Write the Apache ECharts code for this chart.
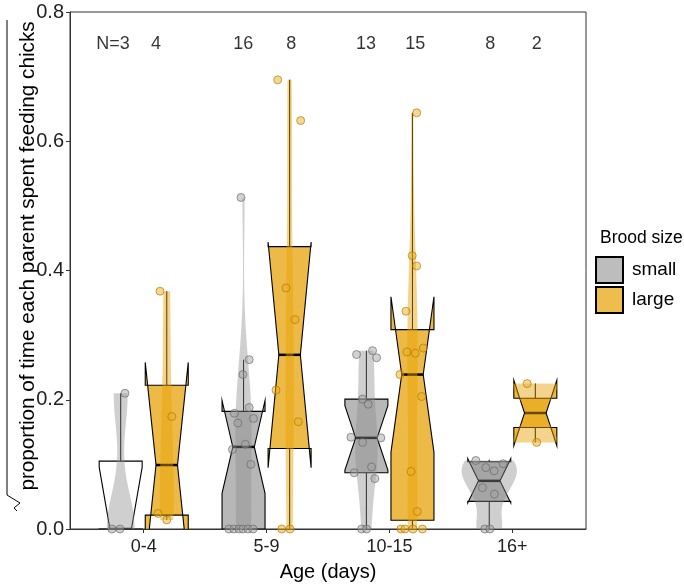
<!DOCTYPE html>
<html>
<head>
<meta charset="utf-8">
<script src="https://cdn.jsdelivr.net/npm/echarts@6/dist/echarts.min.js"></script>
<style>
  html, body { margin: 0; padding: 0; background: #fff; }
  #chart { width: 684px; height: 587px; }
</style>
</head>
<body>
<div id="chart"></div>
<script>
var ages = ['0-4', '5-9', '10-15', '16+'];

// sqrt(proportion) per parent, one list per age class
var smallValues = [
  [0.21, 0, 0],
  [0.513, 0.262, 0.239, 0.188, 0.179, 0.171, 0.164, 0.131, 0.123, 0.100, 0, 0, 0, 0, 0, 0],
  [0.276, 0.270, 0.265, 0.201, 0.193, 0.142, 0.141, 0.134, 0.096, 0.087, 0.078, 0, 0],
  [0.106, 0.101, 0.095, 0.090, 0.064, 0.054, 0, 0]
];
var largeValues = [
  [0.368, 0.174, 0.024, 0.014],
  [0.695, 0.632, 0.373, 0.324, 0.215, 0.166, 0, 0],
  [0.644, 0.423, 0.407, 0.337, 0.280, 0.274, 0.272, 0.239, 0.205, 0.089, 0.027, 0, 0, 0, 0],
  [0.225, 0.134]
];
// horizontal jitter of each dot (x units), as seen in the picture
var smallJitter = [
  [0.035, -0.071, -0.006],
  [-0.021, 0.046, -0.005, 0.046, -0.074, 0.081, -0.046, 0.015, -0.090, 0.059, -0.119, -0.078, -0.037, -0.005, 0.036, 0.077],
  [0.050, -0.080, 0.083, -0.031, 0.015, -0.126, 0.118, -0.031, 0.042, -0.099, 0.069, -0.039, 0.002],
  [-0.109, 0.113, -0.028, 0.040, -0.055, 0.042, -0.036, 0.005]
];
var largeJitter = [
  [-0.055, 0.041, -0.071, 0.0],
  [-0.097, 0.090, -0.029, 0.044, -0.111, 0.071, -0.064, 0.003],
  [0.034, -0.002, 0.034, -0.053, 0.088, -0.045, 0.023, -0.102, 0.075, -0.012, 0.039, -0.094, -0.061, 0.004, 0.081],
  [-0.066, 0.011]
];

// box stats as drawn
var smallQ1 = [0, 0, 0.087, 0.0427];
var smallMedian = [0, 0.127, 0.141, 0.0745];
var smallQ3 = [0.105, 0.182, 0.201, 0.104];
var smallLow = [0, 0, 0, 0];
var smallHigh = [0.21, 0.262, 0.276, 0.107];

var largeQ1 = [0.0215, 0.1245, 0.0135, 0.157];
var largeMedian = [0.099, 0.2695, 0.239, 0.1795];
var largeQ3 = [0.2225, 0.437, 0.3085, 0.2023];
var largeLow = [0.014, 0, 0, 0.134];
var largeHigh = [0.368, 0.695, 0.644, 0.225];

// sample size labels along the top
var countX = [0.75, 1.1, 1.81, 2.2, 2.81, 3.21, 3.82, 4.2];

var DODGE = 0.1875, BOX_W = 0.35, VIOLIN_W = 0.45, NOTCH_W = 0.5;
var FONT = 'Liberation Sans, Arial, sans-serif';

var colors = {
  small: { box: 'rgba(153,153,153,0.7)', violin: 'rgba(140,140,140,0.42)', dot: 'rgba(160,160,160,0.6)', dotLine: 'rgba(100,100,100,0.8)' },
  large: { box: 'rgba(230,159,0,0.72)', violin: 'rgba(230,159,0,0.45)', dot: 'rgba(236,174,30,0.62)', dotLine: 'rgba(170,115,0,0.8)' }
};

// --- kernel density like ggplot's stat_ydensity (gaussian, bw.nrd0, trimmed)
function quantile(s, p) {
  var h = (s.length - 1) * p, i = Math.floor(h);
  var a = s[i], b = s[Math.min(i + 1, s.length - 1)];
  return a + (h - i) * (b - a);
}
function bandwidth(x) {
  var n = x.length;
  var m = x.reduce(function (a, b) { return a + b; }, 0) / n;
  var sd = Math.sqrt(x.reduce(function (a, b) { return a + (b - m) * (b - m); }, 0) / (n - 1));
  var s = x.slice().sort(function (a, b) { return a - b; });
  var lo = Math.min(sd, (quantile(s, 0.75) - quantile(s, 0.25)) / 1.34);
  if (!lo) lo = sd || Math.abs(s[0]) || 1;
  return 0.9 * lo * Math.pow(n, -0.2);
}
function density(x) {
  var bw = bandwidth(x);
  var lo = Math.min.apply(null, x), hi = Math.max.apply(null, x);
  var out = [];
  for (var i = 0; i < 200; i++) {
    var y = lo + (hi - lo) * i / 199, d = 0;
    x.forEach(function (v) { var z = (y - v) / bw; d += Math.exp(-0.5 * z * z); });
    out.push([y, d / (x.length * bw * Math.sqrt(2 * Math.PI))]);
  }
  return out;
}

var smallDens = smallValues.map(density);
var largeDens = largeValues.map(density);
var maxDens = 0;
smallDens.concat(largeDens).forEach(function (d) {
  d.forEach(function (p) { if (p[1] > maxDens) maxDens = p[1]; });
});

function boxData(q1, med, q3, lo, hi, values, shift) {
  return ages.map(function (a, i) {
    return [i + 1 + shift, q1[i], med[i], q3[i], lo[i], hi[i], values[i].length];
  });
}

function boxItem(size) {
  return function (params, api) {
    var x = api.value(0), q1 = api.value(1), med = api.value(2), q3 = api.value(3);
    var lo = api.value(4), hi = api.value(5), n = api.value(6);
    var notch = 1.58 * (q3 - q1) / Math.sqrt(n);
    var hw = BOX_W / 2, nw = hw * NOTCH_W;
    var P = function (dx, v) { return api.coord([x + dx, v]); };
    var pts = [P(-hw, q3), P(-hw, med + notch), P(-nw, med), P(-hw, med - notch), P(-hw, q1),
               P(hw, q1), P(hw, med - notch), P(nw, med), P(hw, med + notch), P(hw, q3)];
    // the 0-4 small box is left unfilled in the original
    var fill = (size === 'small' && params.dataIndex === 0) ? '#fff' : colors[size].box;
    var line = { stroke: '#000', lineWidth: 1.1 };
    return {
      type: 'group',
      children: [
        { type: 'line', shape: { x1: P(0, q3)[0], y1: P(0, q3)[1], x2: P(0, hi)[0], y2: P(0, hi)[1] }, style: line },
        { type: 'line', shape: { x1: P(0, q1)[0], y1: P(0, q1)[1], x2: P(0, lo)[0], y2: P(0, lo)[1] }, style: line },
        { type: 'polygon', shape: { points: pts }, style: { fill: fill, stroke: '#000', lineWidth: 1.1 } },
        { type: 'line', shape: { x1: P(-nw, med)[0], y1: P(-nw, med)[1], x2: P(nw, med)[0], y2: P(nw, med)[1] },
          style: { stroke: '#000', lineWidth: 2.5 } }
      ]
    };
  };
}

function violinItem(dens, color) {
  return function (params, api) {
    var d = dens[params.dataIndex], xc = api.value(0), pts = [];
    if (!d) return;
    d.forEach(function (p) { pts.push(api.coord([xc - p[1] / maxDens * VIOLIN_W / 2, p[0]])); });
    for (var i = d.length - 1; i >= 0; i--) {
      pts.push(api.coord([xc + d[i][1] / maxDens * VIOLIN_W / 2, d[i][0]]));
    }
    return { type: 'polygon', shape: { points: pts }, style: { fill: color } };
  };
}

function dotData(values, jitter, shift) {
  var out = [];
  values.forEach(function (vals, i) {
    vals.forEach(function (v, j) { out.push([i + 1 + shift + jitter[i][j], v]); });
  });
  return out;
}

var countData = [];
ages.forEach(function (a, i) {
  countData.push({ value: [countX[2 * i], 0.751], name: (i === 0 ? 'N=' : '') + smallValues[i].length });
  countData.push({ value: [countX[2 * i + 1], 0.751], name: String(largeValues[i].length) });
});

var chart = echarts.init(document.getElementById('chart'));
chart.setOption({
  animation: false,
  textStyle: { fontFamily: FONT },
  grid: { left: 70, right: 98, top: 12, bottom: 56, show: true, borderColor: '#333', borderWidth: 1 },
  legend: {
    orient: 'vertical', left: 595, top: 256, padding: 0, itemWidth: 27, itemHeight: 26, itemGap: 2,
    selectedMode: false,
    textStyle: { fontSize: 19, color: '#000', padding: [0, 0, 0, 4] },
    data: [
      { name: 'small', icon: 'rect', itemStyle: { color: '#BDBDBD', borderColor: '#000', borderWidth: 2 } },
      { name: 'large', icon: 'rect', itemStyle: { color: '#EFBD4D', borderColor: '#000', borderWidth: 2 } }
    ]
  },
  graphic: [
    { type: 'text', left: 600, top: 229, style: { text: 'Brood size', font: '17.5px ' + FONT, fill: '#000' } },
    { type: 'text', x: 28, y: 256, rotation: Math.PI / 2,
      style: { text: 'proportion of time each parent spent feeding chicks', font: '20.7px ' + FONT, fill: '#000',
               align: 'center', verticalAlign: 'middle' } },
    // square-root sign: hook at the start of the title, bar along its top
    { type: 'polyline', shape: { points: [[17, 511], [14, 508], [20, 503], [7, 495], [7, 20]] },
      style: { stroke: '#000', lineWidth: 1, fill: null } }
  ],
  xAxis: {
    type: 'value', min: 0.4, max: 4.6,
    name: 'Age (days)', nameLocation: 'middle', nameGap: 33,
    nameTextStyle: { fontSize: 20, color: '#000' },
    axisLine: { lineStyle: { color: '#333' } },
    axisTick: { customValues: [1, 2, 3, 4], length: 4, lineStyle: { color: '#333' } },
    axisLabel: { customValues: [1, 2, 3, 4], fontSize: 18, color: '#222', margin: 9,
                 formatter: function (v) { return ages[Math.round(v) - 1]; } },
    splitLine: { show: false }
  },
  yAxis: {
    type: 'value', min: 0, max: 0.8, interval: 0.2,
    axisLine: { show: true, lineStyle: { color: '#333' } },
    axisTick: { show: true, length: 4, lineStyle: { color: '#333' } },
    axisLabel: { fontSize: 20, color: '#222', margin: 6, formatter: function (v) { return v.toFixed(1); } },
    splitLine: { show: false }
  },
  series: [
    { name: 'small', type: 'custom', clip: true, renderItem: boxItem('small'), itemStyle: { color: '#BDBDBD' },
      encode: { x: 0, y: [1, 2, 3, 4, 5] },
      data: boxData(smallQ1, smallMedian, smallQ3, smallLow, smallHigh, smallValues, -DODGE) },
    { name: 'large', type: 'custom', clip: true, renderItem: boxItem('large'), itemStyle: { color: '#EFBD4D' },
      encode: { x: 0, y: [1, 2, 3, 4, 5] },
      data: boxData(largeQ1, largeMedian, largeQ3, largeLow, largeHigh, largeValues, DODGE) },
    { type: 'custom', clip: true, silent: true, renderItem: violinItem(smallDens, colors.small.violin),
      encode: { x: 0, y: 1 }, data: ages.map(function (a, i) { return [i + 1 - DODGE, 0]; }) },
    { type: 'custom', clip: true, silent: true, renderItem: violinItem(largeDens, colors.large.violin),
      encode: { x: 0, y: 1 }, data: ages.map(function (a, i) { return [i + 1 + DODGE, 0]; }) },
    { type: 'scatter', symbolSize: 8, silent: true,
      itemStyle: { color: colors.small.dot, borderColor: colors.small.dotLine, borderWidth: 1 },
      data: dotData(smallValues, smallJitter, -DODGE) },
    { type: 'scatter', symbolSize: 8, silent: true,
      itemStyle: { color: colors.large.dot, borderColor: colors.large.dotLine, borderWidth: 1 },
      data: dotData(largeValues, largeJitter, DODGE) },
    { type: 'scatter', symbolSize: 0, silent: true, data: countData,
      label: { show: true, position: 'inside', fontSize: 18, color: '#000',
               formatter: function (p) { return p.name; } } }
  ]
});
</script>
</body>
</html>
